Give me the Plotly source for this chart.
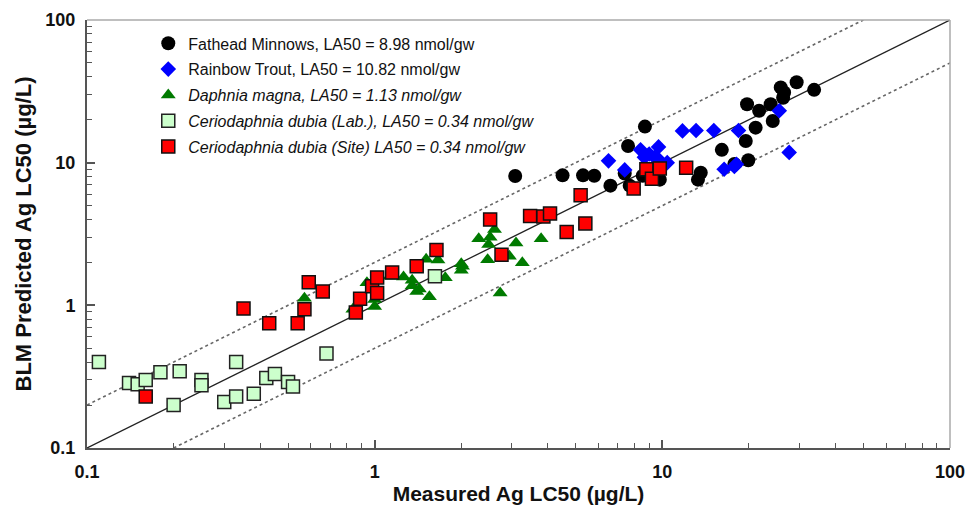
import plotly.graph_objects as go

# ---- data (measured, predicted) in ug/L ----
fathead_x = [3.08, 4.5, 5.3, 5.8, 6.6, 7.4, 7.6, 8.7, 7.7, 8.55, 9.2, 9.8, 13.3, 13.6, 16.1, 17.8, 19.5, 19.9, 19.7, 21.1, 21.7, 23.8, 24.2, 25.8, 26.3, 26.5, 29.3, 33.7]
fathead_y = [8.07, 8.15, 8.15, 8.1, 6.9, 8.4, 13.1, 17.9, 6.9, 8.1, 8.0, 7.6, 7.6, 8.5, 12.3, 9.8, 14.2, 10.4, 25.7, 17.6, 23.1, 25.7, 19.6, 33.7, 28.5, 31.0, 36.6, 32.4]

trout_x = [6.5, 7.4, 8.4, 9.0, 9.7, 8.66, 9.4, 9.77, 10.4, 11.75, 13.1, 15.1, 18.4, 25.5, 27.6, 16.4, 18.1, 17.8]
trout_y = [10.3, 8.9, 12.3, 11.5, 12.9, 10.9, 10.9, 10.4, 10.0, 16.7, 16.8, 16.8, 16.8, 23.1, 11.8, 9.0, 9.75, 9.4]

daphnia_x = [0.57, 0.84, 0.94, 1.0, 1.0, 1.13, 1.26, 1.35, 1.35, 1.43, 1.4, 1.55, 1.51, 1.66, 1.76, 2.0, 2.0, 2.02, 2.3, 2.49, 2.52, 2.61, 2.47, 2.94, 3.1, 3.26, 3.79, 2.73]
daphnia_y = [1.12, 0.94, 1.44, 0.98, 1.1, 1.6, 1.58, 1.5, 1.37, 1.3, 1.25, 1.15, 2.1, 2.08, 1.56, 1.96, 1.76, 1.88, 2.93, 2.67, 3.0, 3.4, 2.09, 2.21, 2.74, 1.99, 2.93, 1.22]

lab_x = [0.11, 0.14, 0.15, 0.16, 0.18, 0.21, 0.25, 0.25, 0.33, 0.20, 0.30, 0.33, 0.38, 0.42, 0.45, 0.50, 0.52, 0.68, 1.62]
lab_y = [0.40, 0.285, 0.28, 0.30, 0.34, 0.345, 0.30, 0.275, 0.40, 0.20, 0.21, 0.23, 0.24, 0.31, 0.33, 0.29, 0.27, 0.46, 1.6]

site_x = [0.16, 0.35, 0.43, 0.54, 0.57, 0.59, 0.66, 0.86, 0.89, 0.98, 1.02, 1.02, 1.15, 1.4, 1.64, 2.52, 3.47, 3.86, 4.07, 2.76, 4.65, 5.2, 5.4, 7.95, 8.8, 9.2, 9.8, 12.1]
site_y = [0.23, 0.95, 0.75, 0.75, 0.94, 1.45, 1.25, 0.89, 1.11, 1.36, 1.57, 1.22, 1.7, 1.88, 2.44, 4.0, 4.22, 4.2, 4.4, 2.26, 3.26, 5.9, 3.75, 6.6, 9.0, 7.7, 9.1, 9.2]

# reference lines: 1:1, factor of 2 above and below
line_x = [0.1, 100]
upper_x = [0.1, 50]
lower_x = [0.2, 100]
factor = 2.0

tick_vals = [0.1, 1, 10, 100]
tick_text = ["0.1", "1", "10", "100"]

FONT = "Liberation Sans, Arial"

fig = go.Figure()

fig.add_trace(go.Scatter(x=line_x, y=line_x, mode="lines",
                         line=dict(color="#222", width=1.3), showlegend=False, hoverinfo="skip"))
fig.add_trace(go.Scatter(x=upper_x, y=[v * factor for v in upper_x], mode="lines",
                         line=dict(color="#666", width=1.6, dash="dot"), showlegend=False, hoverinfo="skip"))
fig.add_trace(go.Scatter(x=lower_x, y=[v / factor for v in lower_x], mode="lines",
                         line=dict(color="#666", width=1.6, dash="dot"), showlegend=False, hoverinfo="skip"))

fig.add_trace(go.Scatter(x=fathead_x, y=fathead_y, mode="markers", legendgroup="a",
                         name="Fathead Minnows, LA50 = 8.98 nmol/gw",
                         marker=dict(symbol="circle", size=14, color="#000000")))
fig.add_trace(go.Scatter(x=trout_x, y=trout_y, mode="markers", legendgroup="b",
                         name="Rainbow Trout, LA50 = 10.82 nmol/gw",
                         marker=dict(symbol="diamond", size=12, color="#0000FF")))
fig.add_trace(go.Scatter(x=daphnia_x, y=daphnia_y, mode="markers", legendgroup="c",
                         name="<i>Daphnia magna, LA50 = 1.13 nmol/gw</i>",
                         marker=dict(symbol="triangle-up", size=13, color="#007A00")))
fig.add_trace(go.Scatter(x=lab_x, y=lab_y, mode="markers", legendgroup="d",
                         name="<i>Ceriodaphnia dubia (Lab.), LA50 = 0.34 nmol/gw</i>",
                         marker=dict(symbol="square", size=13, color="#CCFFCC",
                                     line=dict(color="#222", width=1.5))))
fig.add_trace(go.Scatter(x=site_x, y=site_y, mode="markers", legendgroup="e",
                         name="<i>Ceriodaphnia dubia (Site) LA50 = 0.34 nmol/gw</i>",
                         marker=dict(symbol="square", size=13, color="#FF0000",
                                     line=dict(color="#111", width=1.5))))

axis_common = dict(
    type="log", range=[-1, 2], showgrid=False, zeroline=False, automargin=False,
    showline=True, linecolor="#555", linewidth=2,
    ticks="inside", ticklen=8, tickcolor="#555", tickwidth=1.5,
    tickvals=tick_vals, ticktext=tick_text, ticklabelstandoff=6,
    ticklabeloverflow="allow",
    tickfont=dict(family=FONT, size=18, color="#111", weight="bold"),
    minor=dict(ticks="inside", ticklen=5, tickcolor="#555", tickwidth=1, dtick="D1", showgrid=False),
)

fig.update_xaxes(**axis_common,
                 title=dict(text="Measured Ag LC50 (µg/L)", standoff=6,
                            font=dict(family=FONT, size=21, color="#111", weight="bold")))
fig.update_yaxes(**axis_common,
                 title=dict(text="BLM Predicted Ag LC50 (µg/L)", standoff=8,
                            font=dict(family=FONT, size=22, color="#111", weight="bold")))

# light top/right frame
fig.add_shape(type="line", xref="paper", yref="paper", x0=0, x1=1, y0=1, y1=1,
              line=dict(color="#aaa", width=1.5))
fig.add_shape(type="line", xref="paper", yref="paper", x0=1, x1=1, y0=0, y1=1,
              line=dict(color="#aaa", width=1.5))

fig.update_layout(
    width=969, height=516,
    margin=dict(l=87, r=19, t=20, b=68),
    plot_bgcolor="white", paper_bgcolor="white",
    font=dict(family=FONT, color="#111"),
    legend=dict(x=0.071, y=0.985, xanchor="left", yanchor="top",
                bgcolor="rgba(0,0,0,0)", borderwidth=0, tracegroupgap=2,
                font=dict(family=FONT, size=16, color="#111")),
    showlegend=True,
)

fig.write_html("out.html", config={"displayModeBar": False},
               post_script="document.body.style.margin='0';document.body.style.overflow='hidden';")
